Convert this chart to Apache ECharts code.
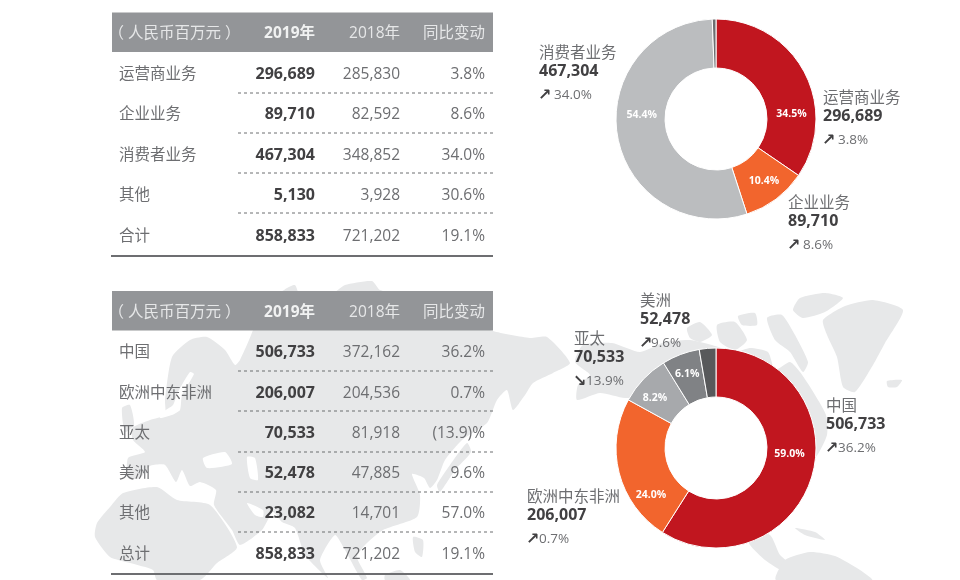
<!DOCTYPE html>
<html><head><meta charset="utf-8">
<style>html,body{margin:0;padding:0;background:#fff}#c{width:960px;height:580px}</style>
<script src="https://cdn.jsdelivr.net/npm/echarts@6/dist/echarts.min.js"></script>
</head><body><div id="c"></div>
<script>
const headers = ['（ 人民币百万元 ）', '2019年', '2018年', '同比变动'];
const bizNames = ['运营商业务', '企业业务', '消费者业务', '其他', '合计'];
const biz2019 = [296689, 89710, 467304, 5130, 858833];
const biz2018 = [285830, 82592, 348852, 3928, 721202];
const bizChange = ['3.8%', '8.6%', '34.0%', '30.6%', '19.1%'];
const regionNames = ['中国', '欧洲中东非洲', '亚太', '美洲', '其他', '总计'];
const region2019 = [506733, 206007, 70533, 52478, 23082, 858833];
const region2018 = [372162, 204536, 81918, 47885, 14701, 721202];
const regionChange = ['36.2%', '0.7%', '(13.9)%', '9.6%', '57.0%', '19.1%'];
const bizColors = ['#C1161F', '#F2652D', '#BBBDBF', '#6D6E71'];
const regionColors = ['#C1161F', '#F2652D', '#A7A9AC', '#808285', '#58595B'];

const FONT = '"Open Sans","Noto Sans CJK SC",sans-serif';
const fmt = v => v.toLocaleString('en-US');
const G = [];
const txt = (x, y, t, o = {}) => G.push({
  type: 'text', x, y: y + 1.5, z: 3, silent: true,
  style: { text: t, fontFamily: FONT, fontSize: o.s || 15.5, fontWeight: o.w || 'normal',
    fill: o.c || '#6D6E71', align: o.a || 'left', verticalAlign: 'middle' }
});

/* decorative background map */
const land = [
  [[128,478],[128,458],[145,452],[133,440],[132,428],[150,420],[165,415],[165,400],[172,357],[190,340],[207,337],[225,350],[235,365],[240,360],[253,330],[257,310],[287,288],[295,285],[300,295],[330,295],[345,285],[372,281],[380,290],[420,300],[440,312],[470,320],[493,331],[530,338],[547,337],[570,363],[553,373],[533,383],[525,395],[513,410],[507,390],[497,400],[487,423],[462,440],[445,460],[437,480],[430,488],[424,478],[412,474],[420,495],[417,517],[383,530],[365,545],[357,557],[367,578],[362,580],[345,550],[335,535],[320,560],[328,578],[305,555],[295,528],[282,522],[273,512],[262,530],[240,545],[232,530],[214,505],[216,490],[200,482],[190,486],[182,470],[176,482],[165,465],[150,466],[140,478]],
  [[110,507],[123,493],[157,487],[177,500],[210,505],[237,547],[217,563],[200,580],[157,580],[153,570],[130,563],[110,557],[95,537],[97,523]],
  [[122,408],[130,405],[134,425],[125,432]],
  [[467,443],[471,452],[455,470],[440,492],[437,485],[450,465]],
  [[413,537],[423,540],[422,557],[415,552]],
  [[385,575],[400,570],[410,580],[385,580]],
  [[583,345],[612,343],[640,352],[665,342],[690,340],[712,345],[735,352],[750,348],[768,352],[775,370],[790,362],[800,372],[812,390],[826,415],[827,435],[815,458],[790,470],[775,405],[716,370],[660,395],[625,398],[600,393],[577,400],[578,385],[590,375],[575,362]],
  [[687,328],[700,322],[712,335],[700,342],[690,338]],
  [[717,325],[735,322],[747,340],[735,350],[720,342]],
  [[738,316],[755,313],[757,325],[742,325]],
  [[767,318],[782,315],[795,335],[808,362],[803,372],[790,352],[775,340]],
  [[793,310],[800,298],[825,293],[843,298],[825,312],[803,318]],
  [[823,320],[845,306],[873,300],[903,310],[885,343],[873,365],[855,392],[843,387],[837,357],[827,335]],
  [[887,381],[902,380],[897,387],[888,387]],
  [[745,530],[770,535],[780,555],[795,568],[785,572],[765,560],[750,545]],
  [[795,528],[815,532],[825,540],[805,535]],
  [[776,580],[785,560],[810,552],[835,556],[860,570],[872,580]]
];
const seas = [
  [[190,372],[194,374],[182,395],[180,410],[172,415],[160,418],[163,412],[173,405],[178,392]],
  [[203,458],[225,452],[232,464],[207,468]],
  [[247,457],[255,458],[258,480],[250,478]],
  [[247,503],[263,510],[263,517],[255,515]]
];
land.forEach(p => G.push({type:'polygon',z:0,silent:true,shape:{points:p,smooth:0.2},style:{fill:'#E7E8E9'}}));
seas.forEach(p => G.push({type:'polygon',z:0,silent:true,shape:{points:p,smooth:0.2},style:{fill:'#FFFFFF'}}));

function table(top, names, a, b, c, rowYs, dashYs, bottom) {
  G.push({type:'rect',z:1,silent:true,shape:{x:112,y:top,width:381,height:39.5},style:{fill:'#939598'}});
  const hy = top + 20;
  txt(108.5, hy, headers[0], {c:'#E6E7E8'});
  txt(315, hy, headers[1], {c:'#F1F2F2', w:'bold', a:'right'});
  txt(400, hy, headers[2], {c:'#E6E7E8', a:'right'});
  txt(485, hy, headers[3], {c:'#E6E7E8', a:'right'});
  names.forEach((n, i) => {
    const y = rowYs[i];
    txt(119, y, n);
    txt(315, y, fmt(a[i]), {c:'#414042', w:'bold', s:16, a:'right'});
    txt(400, y, fmt(b[i]), {a:'right'});
    txt(485, y, c[i], {a:'right'});
  });
  dashYs.forEach(y => G.push({type:'line',z:1,silent:true,shape:{x1:238,y1:y,x2:493,y2:y},
    style:{stroke:'#6D6E71',lineWidth:1,lineDash:[3,3]}}));
  G.push({type:'line',z:1,silent:true,shape:{x1:111,y1:bottom,x2:493,y2:bottom},style:{stroke:'#6D6E71',lineWidth:2}});
}
table(12.5, bizNames, biz2019, biz2018, bizChange, [73,113,154,194,235], [93,133,173,213], 256);
table(291, regionNames, region2019, region2018, regionChange, [351,392,432,472,512,553], [371,411,452,492,532], 574);

function callout(x, y, name, val, change, tx, down) {
  txt(x, y, name);
  txt(x, y + 17.5, fmt(val), {c:'#414042', w:'bold', s:16});
  G.push({type:'text',x:x-1,y:y+44,z:3,silent:true,style:{text:down?'↘':'↗',fontFamily:'"DejaVu Sans"',fontSize:16,fontWeight:'bold',fill:'#414042',verticalAlign:'middle'}});
  txt(tx, y + 42, change, {s:13.5});
}
callout(539, 52, bizNames[2], biz2019[2], bizChange[2], 554);
callout(823, 97, bizNames[0], biz2019[0], bizChange[0], 838);
callout(788, 202, bizNames[1], biz2019[1], bizChange[1], 803);
callout(640, 300, regionNames[3], region2019[3], regionChange[3], 651);
callout(574, 338, regionNames[2], region2019[2], '13.9%', 586, true);
callout(826, 405, regionNames[0], region2019[0], regionChange[0], 838);
callout(527, 496, regionNames[1], region2019[1], regionChange[1], 539);

const bizOffsets = [[6,32],[1,-1],[3,-18],null];
const regionOffsets = [[-2,-16],[11,27],[-4,4],[-1,-1],null];

function pie(cy, names, values, colors, offsets) {
  const total = values.reduce((s, v) => s + v, 0);
  return {
    type:'pie', center:[716,cy], radius:[51,100], startAngle:90, clockwise:true,
    avoidLabelOverlap:false, silent:true, animation:false,
    itemStyle:{borderColor:'#fff',borderWidth:1},
    labelLine:{show:false},
    data:names.map((n,i)=>({
      name:n, value:values[i], itemStyle:{color:colors[i]},
      label: offsets[i] ? {show:true,position:'inside',offset:offsets[i],formatter:d=>(d.value/total*100).toFixed(1)+'%',
        color:'#fff',fontFamily:FONT,fontSize:10.5,fontWeight:'bold'} : {show:false}
    }))
  };
}
const chart = echarts.init(document.getElementById('c'), null, {renderer:'canvas'});
chart.setOption({
  animation:false, backgroundColor:'#fff',
  graphic:{elements:G},
  series:[
    pie(119, bizNames.slice(0,4), biz2019.slice(0,4), bizColors, bizOffsets),
    pie(448, regionNames.slice(0,5), region2019.slice(0,5), regionColors, regionOffsets)
  ]
});
</script></body></html>
